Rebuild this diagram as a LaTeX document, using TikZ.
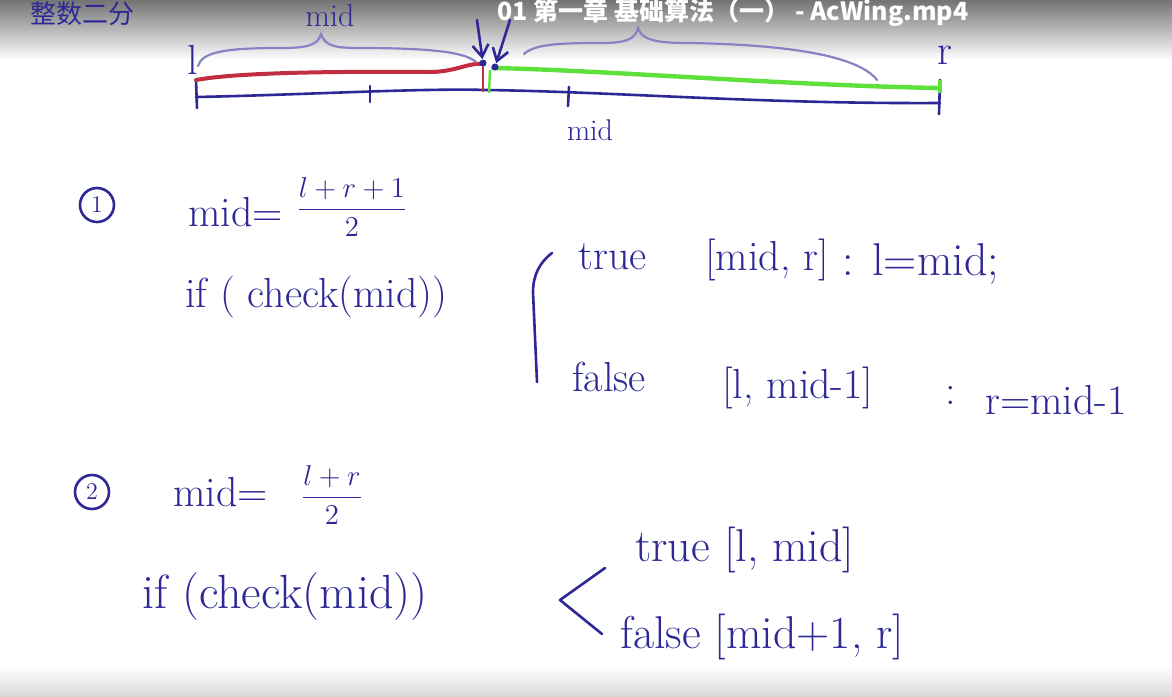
\documentclass[tikz,border=0pt]{standalone}
\usepackage{fontspec}
\usepackage{amsmath}
\usetikzlibrary{arrows.meta}
\newfontfamily\cjk{Noto Sans CJK SC}
\definecolor{pen}{RGB}{45,40,150}
\definecolor{palepen}{RGB}{135,130,195}
\definecolor{redpen}{RGB}{195,45,65}
\definecolor{greenpen}{RGB}{95,225,60}

\begin{document}
\begin{tikzpicture}[x=0.5pt,y=-0.5pt,
  ink/.style={draw=pen,line width=1.3pt,line cap=round,line join=round},
  hand/.style={text=pen,font=\fontsize{21}{25}\selectfont,inner sep=0pt},
  bighand/.style={hand,font=\fontsize{23}{27}\selectfont},
  fracnode/.style={hand,font=\fontsize{15}{18}\selectfont},
  num/.style={circle,draw=pen,line width=1.3pt,minimum size=17pt,inner sep=0pt,text=pen,font=\fontsize{12}{14}\selectfont},
  dot/.style={circle,fill=pen,minimum size=3.5pt,inner sep=0pt}]
% background
\fill[white] (0,0) rectangle (1172,696);
\shade[top color=black!55,bottom color=white] (0,0) rectangle (1172,60);
\shade[top color=white,bottom color=black!15] (0,665) rectangle (1172,696);
\useasboundingbox (0,0) rectangle (1172,696);
\node[hand,anchor=west,font=\cjk\fontsize{13}{15}\selectfont] (topic) at (30,14) {整数二分};
\node[text=white,font=\cjk\bfseries\fontsize{12.5}{15}\selectfont] (title) at (733,13) {01 第一章 基础算法（一） - AcWing.mp4};

% number line
\coordinate (lineL) at (196,97);
\coordinate (lineM) at (487,90);
\coordinate (lineR) at (940,103);
\draw[ink] (lineL) .. controls (300,95) and (420,88) .. (lineM) .. controls (620,92) and (760,104) .. (lineR);
\draw[ink] (196,80) -- (197,108);
\draw[ink] (370,86) -- (370,102);
\draw[ink] (569,87) -- (568,106);
\draw[ink] (940,80) -- (939,114);
\draw[redpen,line width=2pt,line cap=round] (196,80) .. controls (250,70) and (400,72) .. (430,72) .. controls (455,72) and (470,62) .. (483,64);
\draw[redpen,line width=1.2pt] (483,64) -- (483,92);
\draw[greenpen,line width=2.2pt,line cap=round] (493,68) .. controls (600,70) and (800,86) .. (940,88);
\draw[greenpen,line width=1.2pt] (490,70) -- (489,93);
\draw[greenpen,line width=2pt] (940,80) -- (940,93);
\node[dot] (midL) at (483,63) {};
\node[dot] (midR) at (495,67) {};
\coordinate (arrL) at (477,20);
\coordinate (arrR) at (510,20);
\draw[ink,-{Straight Barb[length=6pt,width=8pt]}] (arrL) -- (midL);
\draw[ink,-{Straight Barb[length=6pt,width=8pt]}] (arrR) -- (midR);
\node[hand] (labL) at (193,60) {l};
\node[hand] (labR) at (945,55) {r};
\node[hand,font=\fontsize{16}{19}\selectfont] (midTop) at (330,16) {mid};
\node[hand,font=\fontsize{15}{18}\selectfont] (midBot) at (590,130) {mid};
% braces
\draw[palepen,line width=1.1pt,line cap=round] (198,66) .. controls (202,52) and (225,48) .. (280,48) .. controls (305,48) and (318,46) .. (321,34) .. controls (325,46) and (335,48) .. (360,48) .. controls (430,48) and (465,52) .. (476,62);
\draw[palepen,line width=1.1pt,line cap=round] (524,54) .. controls (535,44) and (560,43) .. (600,43) .. controls (625,43) and (635,40) .. (638,28) .. controls (642,40) and (655,43) .. (690,43) .. controls (800,45) and (860,58) .. (877,80);

% case 1
\node[num] (one) at (97,205) {1};
\node[hand,anchor=west] (mid1) at (188,212) {mid=};
\node[fracnode] (frac1) at (352,207) {$\dfrac{l+r+1}{2}$};
\node[hand,anchor=west] (if1) at (185,297) {if ( check(mid))};
\coordinate (br1a) at (552,253);
\coordinate (br1b) at (537,382);
\draw[ink] (br1a) .. controls (540,262) and (533,275) .. (533,292) -- (br1b);
\node[hand,anchor=west] (true1) at (578,257) {true};
\node[hand,anchor=west] (tset1) at (705,260) {[mid, r]};
\node[bighand,anchor=west] (tdo1) at (842,264) {: l=mid;};
\node[hand,anchor=west] (false1) at (572,377) {false};
\node[hand,anchor=west] (fset1) at (722,388) {[l, mid-1]};
\node[hand,anchor=west] (fcol1) at (945,395) {:};
\node[hand,anchor=west] (fdo1) at (985,400) {r=mid-1};

% case 2
\node[num] (two) at (92,492) {2};
\node[hand,anchor=west] (mid2) at (173,492) {mid=};
\node[fracnode] (frac2) at (332,495) {$\dfrac{l+r}{2}$};
\node[hand,anchor=west,font=\fontsize{24}{28}\selectfont] (if2) at (142,597) {if (check(mid))};
\coordinate (ltTop) at (605,568);
\coordinate (ltTip) at (560,600);
\coordinate (ltBot) at (602,634);
\draw[ink] (ltTop) -- (ltTip) -- (ltBot);
\node[bighand,anchor=west] (true2) at (635,550) {true [l, mid]};
\node[bighand,anchor=west] (false2) at (620,637) {false [mid+1, r]};
\end{tikzpicture}
\end{document}
